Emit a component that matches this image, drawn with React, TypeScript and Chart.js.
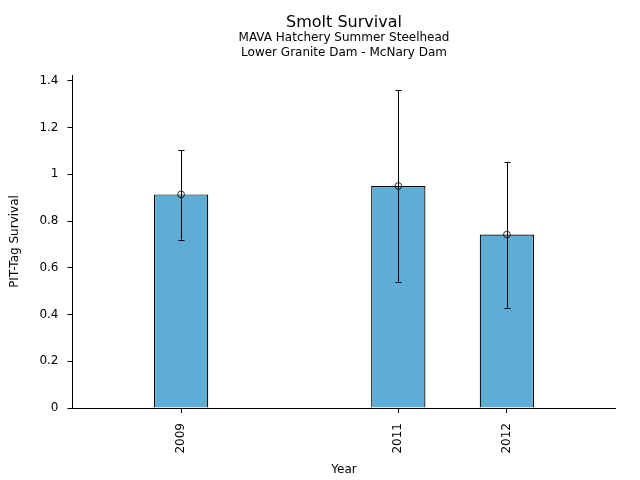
import React, { useEffect, useRef } from "react";
import { Chart, registerables } from "chart.js";

Chart.register(...registerables);

const years = [2009, 2011, 2012];
const survival = [0.914, 0.95, 0.742];
const lowerCI = [0.721, 0.54, 0.429];
const upperCI = [1.104, 1.359, 1.054];
const yTicks = [0, 0.2, 0.4, 0.6, 0.8, 1, 1.2, 1.4];
const xMin = 2008;
const xMax = 2013;
const yMax = 1.425;
const titleText = "Smolt Survival";
const subtitleLines = ["MAVA Hatchery Summer Steelhead", "Lower Granite Dam - McNary Dam"];

const FONT = "'DejaVu Sans', sans-serif";

const errorBarPlugin = {
  id: "errorBars",
  afterDatasetsDraw(chart: any) {
    const ctx = chart.ctx;
    const xs = chart.scales.x;
    const ys = chart.scales.y;
    ctx.save();
    ctx.strokeStyle = "#000";
    ctx.lineWidth = 1;
    years.forEach((yr, i) => {
      const px = Math.round(xs.getPixelForValue(yr)) + 0.5;
      const lo = ys.getPixelForValue(lowerCI[i]);
      const hi = ys.getPixelForValue(upperCI[i]);
      ctx.beginPath();
      ctx.moveTo(px, lo);
      ctx.lineTo(px, hi);
      ctx.moveTo(px - 3, Math.round(lo) + 0.5);
      ctx.lineTo(px + 3, Math.round(lo) + 0.5);
      ctx.moveTo(px - 3, Math.round(hi) + 0.5);
      ctx.lineTo(px + 3, Math.round(hi) + 0.5);
      ctx.stroke();
    });
    ctx.restore();
  },
};

const centeredTitlePlugin = {
  id: "centeredTitle",
  afterDraw(chart: any) {
    const ctx = chart.ctx;
    const ca = chart.chartArea;
    const cx = (ca.left + ca.right) / 2;
    ctx.save();
    ctx.fillStyle = "#000";
    ctx.textAlign = "center";
    ctx.textBaseline = "middle";
    ctx.font = `16px ${FONT}`;
    ctx.fillText(titleText, cx, 23);
    ctx.font = `12px ${FONT}`;
    subtitleLines.forEach((line, i) => {
      ctx.fillText(line, cx, 37.5 + i * 15.3);
    });
    ctx.restore();
  },
};

export default function App() {
  const ref = useRef<HTMLCanvasElement>(null);
  useEffect(() => {
    if (!ref.current) return;
    const chart = new Chart(ref.current, {
      type: "bar",
      data: {
        datasets: [
          {
            type: "scatter" as any,
            data: years.map((x, i) => ({ x, y: survival[i] })),
            pointStyle: "circle",
            pointRadius: 3.4,
            pointBackgroundColor: "rgba(0,0,0,0)",
            pointBorderColor: "#000",
            pointBorderWidth: 0.8,
            order: 0,
          } as any,
          {
            type: "bar",
            data: years.map((x, i) => ({ x, y: survival[i] })),
            backgroundColor: "#5DADD6",
            borderColor: "#000",
            borderWidth: 1.2,
            categoryPercentage: 0.5,
            barPercentage: 1,
            order: 1,
          } as any,
        ],
      },
      plugins: [errorBarPlugin, centeredTitlePlugin],
      options: {
        animation: false,
        responsive: true,
        maintainAspectRatio: false,
        layout: { padding: { left: 0, right: 24.5, top: 75, bottom: 0 } },
        plugins: {
          legend: { display: false },
          tooltip: { enabled: false },
          title: { display: false },
          subtitle: { display: false },
        },
        scales: {
          x: {
            type: "linear",
            min: xMin,
            max: xMax,
            offset: false,
            afterBuildTicks: (s: any) => {
              s.ticks = years.map((v) => ({ value: v }));
            },
            afterFit: (s: any) => {
              s.height = 72;
            },
            ticks: {
              color: "#000",
              font: { family: FONT, size: 12 },
              minRotation: 90,
              maxRotation: 90,
              padding: 10,
              callback: (v: any) => String(v),
            },
            grid: {
              display: true,
              offset: false,
              drawOnChartArea: false,
              drawTicks: true,
              tickLength: 5,
              color: "#000",
            },
            border: { display: true, color: "#000", width: 1 },
            title: {
              display: true,
              text: "Year",
              color: "#000",
              font: { family: FONT, size: 12 },
              padding: { top: 0, bottom: 2.8 },
            },
          },
          y: {
            type: "linear",
            min: 0,
            max: yMax,
            afterBuildTicks: (s: any) => {
              s.ticks = yTicks.map((v) => ({ value: v }));
            },
            afterFit: (s: any) => {
              s.width = 72.5;
            },
            ticks: {
              color: "#000",
              font: { family: FONT, size: 12 },
              padding: 9,
              callback: (v: any) => String(Math.round(Number(v) * 10) / 10),
            },
            grid: {
              display: true,
              drawOnChartArea: false,
              drawTicks: true,
              tickLength: 5,
              color: "#000",
            },
            border: { display: true, color: "#000", width: 1 },
            title: {
              display: true,
              text: "PIT-Tag Survival",
              color: "#000",
              font: { family: FONT, size: 12 },
              padding: { top: 7.8, bottom: 0 },
            },
          },
        },
      },
    });
    return () => chart.destroy();
  }, []);
  return (
    <div style={{ position: "fixed", left: 0, top: 0, width: 640, height: 480, background: "#fff" }}>
      <canvas ref={ref} />
    </div>
  );
}
